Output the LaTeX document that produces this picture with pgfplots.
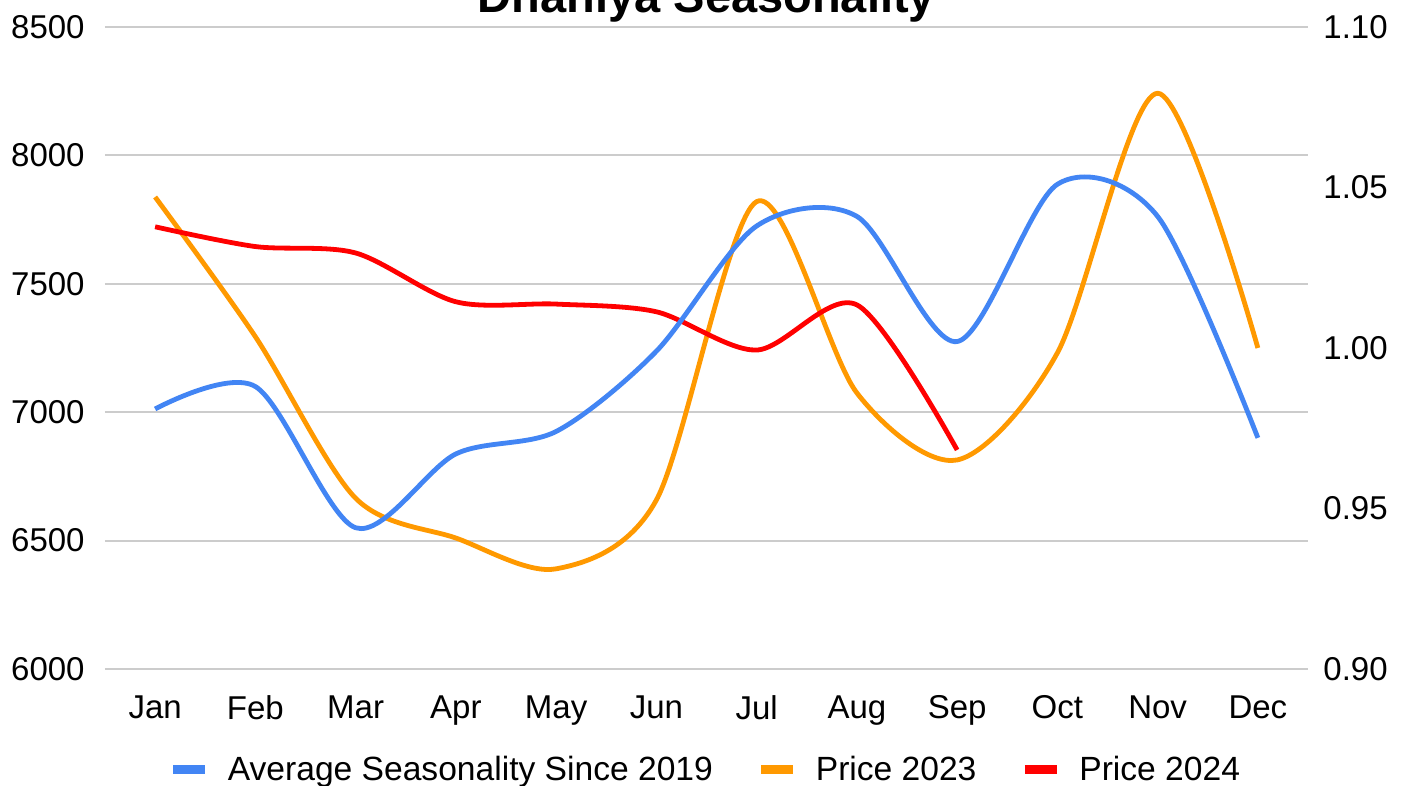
\documentclass[border=0pt]{standalone}
\usepackage{fontspec}
\setmainfont{Liberation Sans}
\usepackage{pgfplots}
\pgfplotsset{compat=1.18}
\definecolor{cblue}{HTML}{4285F4}
\definecolor{corange}{HTML}{FF9900}
\definecolor{cred}{HTML}{FF0000}
\definecolor{cgrid}{HTML}{CCCCCC}
\begin{document}
\begin{tikzpicture}
\fill[white] (-52.5pt,-58.5pt) rectangle (652pt,334.5pt);
\pgfplotsset{
  common/.style={
    at={(0pt,0pt)}, anchor=south west,
    width=601.5pt, height=321pt, scale only axis,
    xmin=-0.5, xmax=11.5,
    tick label style={font=\fontsize{16.5}{20}\selectfont},
    /pgf/number format/assume math mode=true,
    major tick length=0pt,
    axis line style={draw=none},
    tick style={draw=none},
  }
}
\begin{axis}[common,
  ymin=6000, ymax=8500, ytick={6000,6500,...,8500},
  /pgf/number format/set thousands separator={},
  ymajorgrids, grid style={cgrid, line width=1pt},
  xtick={0,...,11},
  xticklabels={Jan,Feb,Mar,Apr,May,Jun,Jul,Aug,Sep,Oct,Nov,Dec},
  xticklabel style={inner sep=0pt, anchor=north, yshift=-13pt},
  yticklabel style={inner sep=0pt, anchor=east, xshift=-10pt},
]
\addplot[corange, line width=2.4pt, smooth] coordinates {
 (0,7838) (1,7294) (2,6665) (3,6510) (4,6390) (5,6658)
 (6,7820) (7,7075) (8,6814) (9,7231) (10,8242) (11,7250)};
\addplot[cred, line width=2.4pt, smooth] coordinates {
 (0,7722) (1,7645) (2,7620) (3,7430) (4,7421) (5,7391)
 (6,7242) (7,7418) (8,6853)};
\end{axis}
\begin{axis}[common,
  ymin=0.90, ymax=1.10, ytick={0.90,0.95,...,1.10},
  axis y line*=right, axis x line=none,
  yticklabel style={inner sep=0pt, anchor=west, xshift=7.5pt,
    /pgf/number format/.cd, fixed, fixed zerofill, precision=2},
  legend style={at={(0.5,0)}, anchor=center, yshift=-50.5pt,
    draw=none, fill=none, legend columns=3,
    font=\fontsize{16.8}{20}\selectfont,
    /tikz/every even column/.append style={column sep=20pt}},
  legend image code/.code={\draw[#1, line width=4.5pt] (0pt,0pt) -- (16pt,0pt); \path (24pt,0pt);},
]
\addplot[cblue, line width=2.4pt, smooth] coordinates {
 (0,0.981) (1,0.988) (2,0.944) (3,0.967) (4,0.974) (5,0.999)
 (6,1.038) (7,1.041) (8,1.002) (9,1.051) (10,1.041) (11,0.972)};
\addlegendentry{Average Seasonality Since 2019}
\addlegendimage{corange, line width=2.4pt}
\addlegendentry{Price 2023}
\addlegendimage{cred, line width=2.4pt}
\addlegendentry{Price 2024}
\end{axis}
\node[anchor=base, font=\bfseries\fontsize{23.5}{28}\selectfont] at (300.75pt,328pt) {Dhaniya Seasonality};
\pgfresetboundingbox
\path (-52.5pt,-58.5pt) rectangle (652pt,334.5pt);
\end{tikzpicture}
\end{document}
